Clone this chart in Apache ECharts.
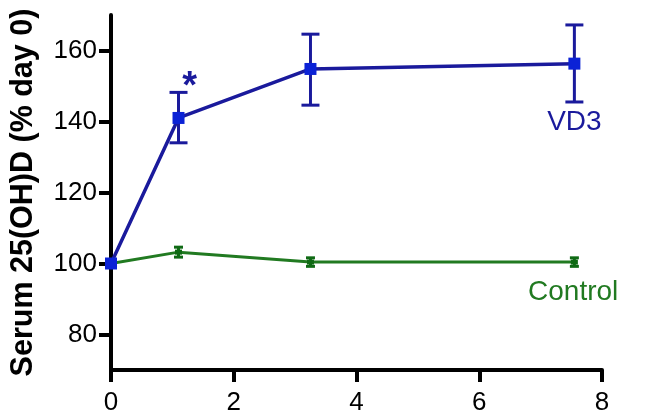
<!DOCTYPE html>
<html>
<head>
<meta charset="utf-8">
<script src="https://cdn.jsdelivr.net/npm/echarts@6/dist/echarts.min.js"></script>
<style>html,body{margin:0;padding:0;background:#fff;}#c{width:653px;height:420px;}</style>
</head>
<body>
<div id="c"></div>
<script>
// x positions of the measurement days as they sit on the drawn axis
var vd3X = [0, 1.1, 3.25, 7.55];
var vd3Mean = [100, 141, 154.8, 156.3];
var vd3Low = [100, 134, 144.6, 145.5];
var vd3High = [100, 148.2, 164.6, 167.2];

var ctrlX = [0, 1.1, 3.25, 7.55];
var ctrlMean = [100, 103.2, 100.4, 100.4];
var ctrlLow = [100, 101.8, 99.2, 99.2];
var ctrlHigh = [100, 104.6, 101.6, 101.6];

var xTicks = [0, 2, 4, 6, 8];
var yTicks = [80, 100, 120, 140, 160];
var yTitle = 'Serum 25(OH)D (% day 0)';

var FONT = '"Liberation Sans", Arial, Helvetica, sans-serif';
var BLUE_LINE = '#1a1a9c';
var BLUE_MARK = '#0b22d6';
var GREEN_LINE = '#217a21';
var GREEN_MARK = '#0f6a14';

function pairs(xs, ys) { return xs.map(function (x, i) { return [x, ys[i]]; }); }
function errData(xs, lo, hi) {
  var out = [];
  for (var i = 1; i < xs.length; i++) out.push([xs[i], lo[i], hi[i]]);
  return out;
}
function errRender(color, cap, lw) {
  return function (params, api) {
    var x = api.value(0);
    var p1 = api.coord([x, api.value(1)]);
    var p2 = api.coord([x, api.value(2)]);
    var st = { stroke: color, lineWidth: lw };
    return {
      type: 'group',
      children: [
        { type: 'line', shape: { x1: p1[0], y1: p1[1], x2: p2[0], y2: p2[1] }, style: st },
        { type: 'line', shape: { x1: p1[0] - cap / 2, y1: p1[1], x2: p1[0] + cap / 2, y2: p1[1] }, style: st },
        { type: 'line', shape: { x1: p2[0] - cap / 2, y1: p2[1], x2: p2[0] + cap / 2, y2: p2[1] }, style: st }
      ]
    };
  };
}

var chart = echarts.init(document.getElementById('c'), null, { renderer: 'canvas' });
chart.setOption({
  animation: false,
  backgroundColor: '#ffffff',
  grid: { left: 108, right: 51, top: 15, bottom: 50, containLabel: false },
  xAxis: {
    type: 'value', min: 0, max: 8, interval: 2,
    axisLine: { show: true, lineStyle: { color: '#000', width: 4 } },
    axisTick: { show: true, inside: false, length: 12, lineStyle: { color: '#000', width: 4 } },
    axisLabel: { color: '#000', fontSize: 26, fontFamily: FONT, margin: 20,
      formatter: function (v) { return xTicks.indexOf(v) >= 0 ? String(v) : ''; } },
    splitLine: { show: false }
  },
  yAxis: {
    type: 'value', min: 70, max: 170, interval: 10,
    axisLine: { show: true, onZero: false, lineStyle: { color: '#000', width: 4 } },
    axisTick: { show: true, inside: false, length: 12, lineStyle: { color: '#000', width: 4 }, customValues: yTicks },
    axisLabel: { color: '#000', fontSize: 26, fontFamily: FONT, margin: 14, showMinLabel: true, showMaxLabel: true,
      formatter: function (v) { return yTicks.indexOf(v) >= 0 ? String(v) : ''; } },
    splitLine: { show: false },
    name: yTitle,
    nameLocation: 'middle',
    nameGap: 72,
    nameTextStyle: { color: '#000', fontSize: 30.5, fontWeight: 'bold', fontFamily: FONT }
  },
  series: [
    {
      name: 'Control', type: 'line', data: pairs(ctrlX, ctrlMean),
      lineStyle: { color: GREEN_LINE, width: 3 },
      itemStyle: { color: GREEN_MARK },
      symbol: 'rect', symbolSize: [7, 5], showSymbol: true, z: 2,
      markPoint: {
        symbol: 'circle', symbolSize: 0,
        label: { show: true, formatter: 'Control', color: GREEN_LINE, fontSize: 28, fontFamily: FONT, position: 'inside' },
        data: [{ coord: [7.53, 92.0] }]
      }
    },
    {
      name: 'ctrlErr', type: 'custom', renderItem: errRender(GREEN_MARK, 9, 3),
      data: errData(ctrlX, ctrlLow, ctrlHigh), encode: { x: 0, y: [1, 2] }, z: 3
    },
    {
      name: 'VD3', type: 'line', data: pairs(vd3X, vd3Mean),
      lineStyle: { color: BLUE_LINE, width: 3.5 },
      itemStyle: { color: BLUE_MARK },
      symbol: 'rect', symbolSize: 12, showSymbol: true, z: 5,
      markPoint: {
        symbol: 'circle', symbolSize: 0,
        label: { show: true, color: BLUE_LINE, fontFamily: FONT, position: 'inside',
          formatter: function (p) { return p.name; } },
        data: [
          { name: 'VD3', coord: [7.55, 139.8], label: { fontSize: 28 } },
          { name: '*', coord: [1.28, 149.5], label: { fontSize: 38, fontWeight: 'bold' } }
        ]
      }
    },
    {
      name: 'vd3Err', type: 'custom', renderItem: errRender(BLUE_LINE, 18, 3),
      data: errData(vd3X, vd3Low, vd3High), encode: { x: 0, y: [1, 2] }, z: 4
    }
  ]
});
</script>
</body>
</html>
